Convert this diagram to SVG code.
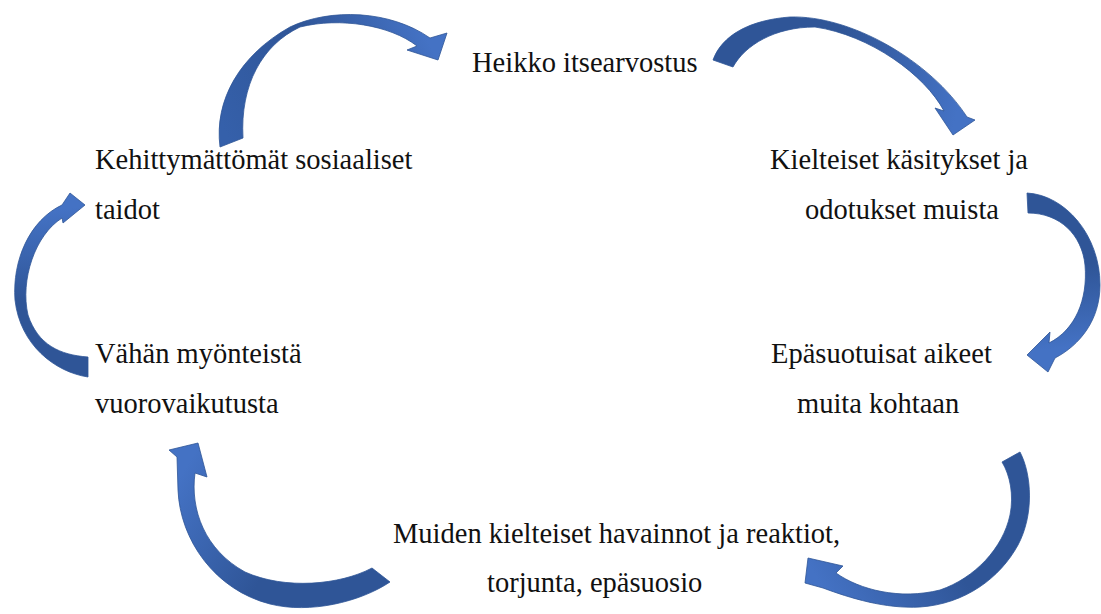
<svg xmlns="http://www.w3.org/2000/svg" width="1101" height="614" viewBox="0 0 1101 614">
<style>
.lbl{font-family:"Liberation Serif","Times New Roman",serif;font-size:28.5px;fill:#111}
.arr{stroke:#2F5597;stroke-width:0.8;stroke-linejoin:round}
</style>
<defs>
<linearGradient id="g1" gradientUnits="userSpaceOnUse" x1="230" y1="142" x2="430" y2="45"><stop offset="0" stop-color="#3560AA"/><stop offset="0.5" stop-color="#2F5597"/><stop offset="1" stop-color="#4472C4"/></linearGradient>
<linearGradient id="g2" gradientUnits="userSpaceOnUse" x1="723" y1="63" x2="955" y2="120"><stop offset="0" stop-color="#2F5597"/><stop offset="0.45" stop-color="#2F5597"/><stop offset="1" stop-color="#4472C4"/></linearGradient>
<linearGradient id="g3" gradientUnits="userSpaceOnUse" x1="1027" y1="203" x2="1040" y2="350"><stop offset="0" stop-color="#2F5597"/><stop offset="0.45" stop-color="#2F5597"/><stop offset="1" stop-color="#4472C4"/></linearGradient>
<linearGradient id="g4" gradientUnits="userSpaceOnUse" x1="1010" y1="457" x2="815" y2="575"><stop offset="0" stop-color="#2F5597"/><stop offset="0.45" stop-color="#2F5597"/><stop offset="1" stop-color="#4472C4"/></linearGradient>
<linearGradient id="g5" gradientUnits="userSpaceOnUse" x1="380" y1="575" x2="190" y2="460"><stop offset="0" stop-color="#2F5597"/><stop offset="0.45" stop-color="#2F5597"/><stop offset="1" stop-color="#4472C4"/></linearGradient>
<linearGradient id="g6" gradientUnits="userSpaceOnUse" x1="88" y1="367" x2="72" y2="208"><stop offset="0" stop-color="#2F5597"/><stop offset="0.45" stop-color="#2F5597"/><stop offset="1" stop-color="#4472C4"/></linearGradient>
</defs>
<g id="connectors">
<path class="arr" fill="url(#g1)" d="M220,147 C214,100 240,55 290,27 C330,8 390,10 430,38 L447,33 L438,60 L407,50 L417,46 C390,25 340,17 300,27 C262,45 240,85 243,138 Z"/>
<path class="arr" fill="url(#g2)" d="M713,60 C722,35 750,20 790,17 C850,15 930,60 967,117 L975,120 L953,135 L935,108 L944,111 C925,75 870,35 815,27 C775,27 745,45 733,67 Z"/>
<path class="arr" fill="url(#g3)" d="M1027,193 C1065,195 1100,235 1100,285 C1100,320 1080,345 1055,358 L1048,372 L1027,355 L1050,332 L1049,343 C1075,330 1088,300 1085,265 C1082,235 1060,213 1028,213 Z"/>
<path class="arr" fill="url(#g4)" d="M1020,452 C1032,475 1034,515 1018,545 C1000,578 965,604 920,607 C885,609 850,598 823,588 L805,583 L808,558 L843,566 L836,573 C860,590 900,600 940,590 C975,578 1003,548 1010,515 C1014,495 1010,475 1002,462 Z"/>
<path class="arr" fill="url(#g5)" d="M390,582 C360,602 310,614 270,604 C215,590 180,540 178,490 L177,457 L169,450 L198,443 L207,477 L195,473 C190,510 205,550 245,572 C285,590 340,585 372,568 Z"/>
<path class="arr" fill="url(#g6)" d="M88,377 C55,372 20,345 15,300 C12,260 30,220 62,205 L70,193 L85,205 L63,223 L62,218 C35,235 20,280 28,315 C38,345 60,355 88,357 Z"/>
</g>
<g id="n1"><text class="lbl" x="472" y="72">Heikko itsearvostus</text></g>
<g id="n2"><text class="lbl" x="770" y="169">Kielteiset käsitykset ja</text><text class="lbl" x="805" y="219">odotukset muista</text></g>
<g id="n3"><text class="lbl" x="771" y="363">Epäsuotuisat aikeet</text><text class="lbl" x="797" y="413">muita kohtaan</text></g>
<g id="n4"><text class="lbl" x="393" y="543">Muiden kielteiset havainnot ja reaktiot,</text><text class="lbl" x="487" y="592">torjunta, epäsuosio</text></g>
<g id="n5"><text class="lbl" x="95" y="363">Vähän myönteistä</text><text class="lbl" x="95" y="413">vuorovaikutusta</text></g>
<g id="n6"><text class="lbl" x="95" y="169">Kehittymättömät sosiaaliset</text><text class="lbl" x="95" y="219">taidot</text></g>
</svg>
